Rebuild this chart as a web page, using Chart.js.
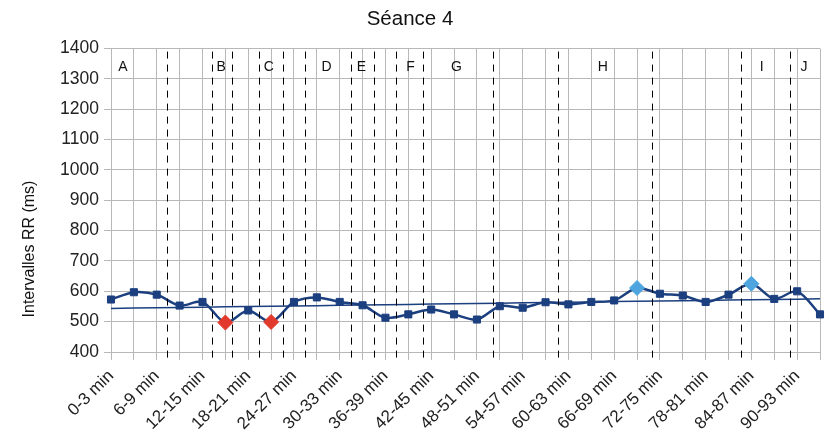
<!DOCTYPE html>
<html>
<head>
<meta charset="utf-8">
<script src="https://cdn.jsdelivr.net/npm/chart.js@4"></script>
<style>
  html, body { margin: 0; padding: 0; background: #fff; }
  #wrap { width: 836px; height: 438px; }
</style>
</head>
<body>
<div id="wrap"><canvas id="chart-seance"></canvas></div>
<script>
// categories: 3-minute windows
var periods = [];
for (var i = 0; i < 32; i++) periods.push(i * 3 + '-' + (i * 3 + 3) + ' min');

// mean RR interval per window (ms)
var rrValues = [573, 597, 589, 553, 565, 497, 537, 499, 565, 580, 565, 554, 513, 524, 540, 524,
                507, 551, 546, 564, 557, 565, 570, 611, 592, 586, 565, 589, 625, 575, 600, 524];

// highlighted windows
var lowPoints = [5, 7];
var highPoints = [23, 28];

// event markers (dashed lines), in category units
var eventPositions = [2.45, 4.42, 5.3, 6.48, 7.5, 8.5, 10.5, 11.52, 12.47, 13.62,
                      16.7, 19.55, 23.65, 27.55, 29.7];

// phase letters and their positions
var phaseLetters = ['A', 'B', 'C', 'D', 'E', 'F', 'G', 'H', 'I', 'J'];
var phasePositions = [0.52, 4.82, 6.9, 9.43, 10.95, 13.1, 15.1, 21.5, 28.45, 30.3];

var yTicks = [400, 500, 600, 700, 800, 900, 1000, 1100, 1200, 1300, 1400];

// linear trend of the series
var n = rrValues.length, sx = 0, sy = 0, sxy = 0, sxx = 0;
rrValues.forEach(function (v, i) { sx += i; sy += v; sxy += i * v; sxx += i * i; });
var slope = (n * sxy - sx * sy) / (n * sxx - sx * sx);
var icpt = (sy - slope * sx) / n;
var trend = rrValues.map(function (_v, i) { return icpt + slope * i; });

var navy = '#1c3f7f';
var font = '"Liberation Sans", Arial, sans-serif';
var isLow = function (i) { return lowPoints.indexOf(i) >= 0; };
var isHigh = function (i) { return highPoints.indexOf(i) >= 0; };
var pointColors = rrValues.map(function (_v, i) {
  return isLow(i) ? '#e2392d' : isHigh(i) ? '#4da4de' : navy;
});
var pointStyles = rrValues.map(function (_v, i) {
  return isLow(i) || isHigh(i) ? 'rectRot' : 'rect';
});
var pointRadii = rrValues.map(function (_v, i) {
  return isLow(i) || isHigh(i) ? 7.5 : 5;
});

var markers = {
  id: 'markers',
  afterDraw: function (chart) {
    var ctx = chart.ctx, xs = chart.scales.x, ys = chart.scales.y, area = chart.chartArea;
    ctx.save();
    ctx.strokeStyle = '#000';
    ctx.lineWidth = 1;
    ctx.setLineDash([7, 6]);
    eventPositions.forEach(function (p) {
      var x = Math.round(xs.getPixelForValue(p)) + 0.5;
      ctx.beginPath();
      ctx.moveTo(x, area.top + 3);
      ctx.lineTo(x, area.bottom + 8);
      ctx.stroke();
    });
    ctx.setLineDash([]);
    ctx.fillStyle = '#111';
    ctx.font = '14px ' + font;
    ctx.textAlign = 'center';
    ctx.textBaseline = 'middle';
    phaseLetters.forEach(function (l, i) {
      ctx.fillText(l, xs.getPixelForValue(phasePositions[i]), ys.getPixelForValue(1340));
    });
    // y axis title
    ctx.translate(30, 249);
    ctx.rotate(-Math.PI / 2);
    ctx.font = '16px ' + font;
    ctx.fillText('Intervalles RR (ms)', 0, 0);
    ctx.restore();
  },
};

var ctx = document.getElementById('chart-seance').getContext('2d');
var chart = new Chart(ctx, {
  type: 'line',
  plugins: [markers],
  data: {
    labels: periods,
    datasets: [
      {
        label: 'RR',
        data: rrValues,
        borderColor: navy,
        borderWidth: 2.5,
        tension: 0.3,
        pointStyle: pointStyles,
        pointRadius: pointRadii,
        pointBackgroundColor: pointColors,
        pointBorderColor: pointColors,
        pointBorderWidth: 1,
        order: 1,
      },
      {
        label: 'Tendance',
        data: trend,
        borderColor: navy,
        borderWidth: 1.5,
        pointRadius: 0,
        order: 2,
      },
    ],
  },
  options: {
    responsive: true,
    maintainAspectRatio: false,
    animation: false,
    layout: { padding: { left: 0, right: 16, top: 0, bottom: 0 } },
    plugins: {
      legend: { display: false },
      tooltip: { enabled: false },
      title: {
        display: true,
        text: 'Séance 4',
        color: '#111',
        font: { family: font, size: 20.5, weight: 'normal' },
        padding: { top: 7, bottom: 17 },
      },
    },
    scales: {
      x: {
        offset: false,
        grid: { color: '#b8b8b8', lineWidth: 1, tickLength: 8 },
        border: { color: '#b8b8b8' },
        ticks: {
          autoSkip: false,
          maxRotation: 45,
          minRotation: 45,
          padding: 6,
          color: '#222',
          font: { family: font, size: 17 },
          callback: function (_v, i) { return i % 2 === 0 ? periods[i] : ''; },
        },
        afterFit: function (scale) {
          scale.height = 86;
          scale.paddingLeft = 0;
          scale.paddingRight = 0;
        },
      },
      y: {
        min: 400,
        max: 1400,
        afterBuildTicks: function (scale) {
          scale.ticks = yTicks.map(function (v) { return { value: v }; });
        },
        grid: { color: '#b8b8b8', lineWidth: 1, tickLength: 7 },
        border: { color: '#b8b8b8' },
        ticks: {
          color: '#222',
          padding: 5,
          font: { family: font, size: 17.5 },
          callback: function (v) { return String(v); },
        },
        afterFit: function (scale) { scale.width = 111; },
      },
    },
  },
});
</script>
</body>
</html>
